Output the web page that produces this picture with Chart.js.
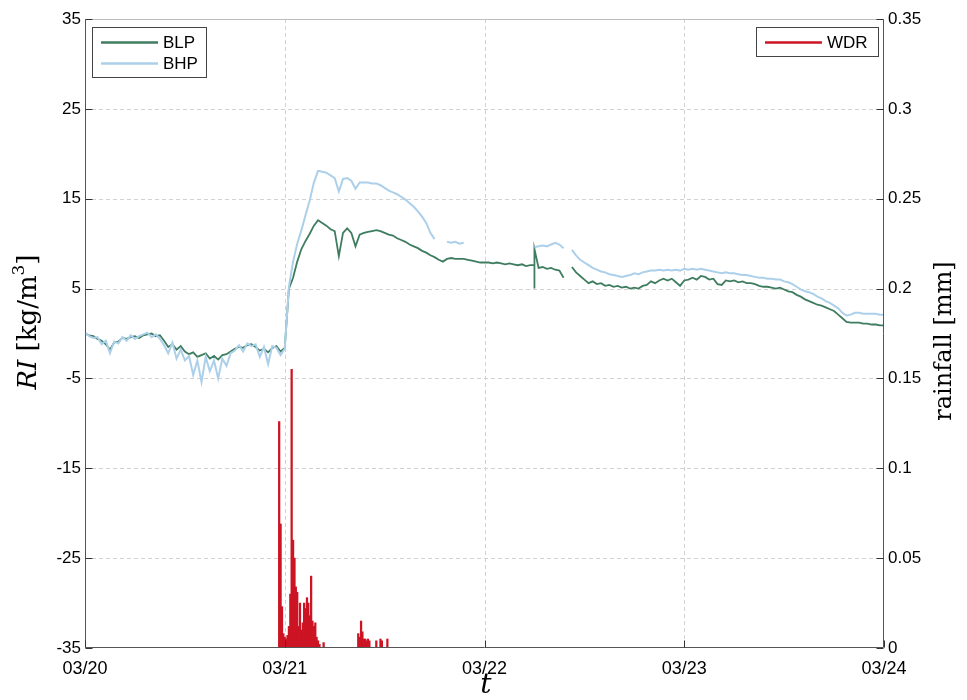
<!DOCTYPE html>
<html>
<head>
<meta charset="utf-8">
<script src="https://cdn.jsdelivr.net/npm/chart.js@4"></script>
<style>
  html, body { margin: 0; padding: 0; background: #ffffff; }
  #wrap { width: 967px; height: 700px; position: relative; }
</style>
</head>
<body>
<div id="wrap"><canvas id="c" width="967" height="700"></canvas></div>
<script>
// ---------- DATA ----------
const dayLabels = ['03/20', '03/21', '03/22', '03/23', '03/24'];
const leftTicks = [-35, -25, -15, -5, 5, 15, 25, 35];
const rightTicks = [0, 0.05, 0.1, 0.15, 0.2, 0.25, 0.3, 0.35];

// hours since 03/20 00:00
const hours = [
  0,0.5,1,1.5,2,2.5,3,3.5,4,4.5,5,5.5,6,6.5,7,7.5,8,8.5,9,9.5,10,10.5,11,11.5,
  12,12.5,13,13.5,14,14.5,15,15.5,16,16.5,17,17.5,18,18.5,19,19.5,20,20.5,21,21.5,22,22.5,23,23.5,
  24,24.5,25,25.5,26,26.5,27,27.5,28,28.5,29,29.5,30,30.5,31,31.5,32,32.5,33,33.5,34,34.5,35,35.5,
  36,36.5,37,37.5,38,38.5,39,39.5,40,40.5,41,41.5,42,42.5,43,43.5,44,44.5,45,45.5,46,46.5,47,47.5,
  48,48.5,49,49.5,50,50.5,51,51.5,52,52.5,53,53.5,54,54,54,54.5,55,55.5,56,56.5,57,57.5,58,58.5,59,59.5,
  60,60.5,61,61.5,62,62.5,63,63.5,64,64.5,65,65.5,66,66.5,67,67.5,68,68.5,69,69.5,70,70.5,71,71.5,
  72,72.5,73,73.5,74,74.5,75,75.5,76,76.5,77,77.5,78,78.5,79,79.5,80,80.5,81,81.5,82,82.5,83,83.5,
  84,84.5,85,85.5,86,86.5,87,87.5,88,88.5,89,89.5,90,90.5,91,91.5,92,92.5,93,93.5,94,94.5,95,95.5,96
];

const blp = [
  0.0,-0.2,-0.3,-0.6,-0.8,-1.2,-1.8,-1.0,-0.9,-0.5,-0.6,-0.4,-0.3,-0.5,-0.2,-0.1,0.0,-0.3,-0.2,-0.8,-1.5,-1.2,-1.8,-1.4,
  -2.0,-2.3,-2.1,-2.6,-2.4,-2.2,-2.8,-2.5,-2.9,-2.4,-2.3,-2.0,-1.7,-1.5,-1.6,-1.3,-1.2,-1.5,-1.9,-1.7,-2.1,-1.6,-1.4,-2.0,
  -1.6,5.0,6.2,8.0,9.4,10.3,11.1,12.0,12.6,12.3,12.0,11.6,11.4,8.6,11.2,11.7,11.2,9.7,11.0,11.2,11.3,11.4,11.5,11.4,
  11.2,11.0,10.9,10.6,10.4,10.2,9.9,9.7,9.5,9.2,9.0,8.7,8.5,8.2,8.0,8.3,8.4,8.3,8.3,8.3,8.2,8.1,8.0,7.9,
  7.9,7.9,7.8,7.9,7.8,7.7,7.8,7.7,7.6,7.7,7.5,7.6,7.6,5.0,9.4,7.3,7.4,7.2,7.3,7.1,7.0,6.2,null,7.4,6.8,6.4,
  6.0,5.6,5.8,5.5,5.6,5.3,5.4,5.2,5.3,5.1,5.2,5.0,5.1,5.0,5.3,5.4,5.8,5.6,5.9,6.1,5.9,6.1,5.7,5.3,
  5.9,6.0,6.2,6.0,6.4,6.3,6.0,6.1,5.5,5.4,5.9,5.8,5.9,5.7,5.8,5.6,5.6,5.5,5.3,5.2,5.2,5.1,5.0,5.1,
  4.9,4.7,4.6,4.3,4.1,3.8,3.6,3.4,3.2,3.1,2.9,2.7,2.5,2.1,1.7,1.3,1.2,1.2,1.2,1.1,1.1,1.0,1.0,0.9,0.9
];

const bhp = [
  0.1,-0.3,-0.5,-0.4,-1.2,-0.8,-2.2,-0.9,-1.1,-0.4,-0.8,-0.2,-0.6,-0.3,-0.1,0.1,-0.4,-0.1,-0.6,-1.3,-2.2,-1.0,-2.8,-1.8,
  -3.0,-2.5,-4.6,-3.0,-5.4,-2.6,-4.2,-3.0,-5.0,-2.8,-3.6,-2.2,-1.9,-1.3,-2.0,-1.1,-1.4,-1.2,-2.6,-1.5,-3.4,-1.4,-1.6,-2.4,
  -1.7,5.2,8.0,10.0,11.5,13.2,14.8,16.8,18.1,18.0,17.9,17.6,17.3,15.8,17.2,17.3,17.0,16.1,16.8,16.8,16.8,16.7,16.7,16.5,
  16.2,15.9,15.7,15.5,15.2,14.9,14.5,14.1,13.6,13.0,12.3,11.2,10.5,null,null,10.2,10.1,10.2,10.0,10.1,null,null,null,null,
  null,null,null,null,null,null,null,null,null,null,null,null,null,null,9.6,9.7,9.8,9.7,9.9,10.1,9.9,9.5,null,9.3,8.7,8.2,
  7.9,7.6,7.3,7.1,6.9,6.8,6.6,6.5,6.4,6.3,6.4,6.5,6.7,6.6,6.8,6.9,7.0,7.0,7.1,7.0,7.1,7.0,7.1,7.0,
  7.2,7.1,7.2,7.1,7.2,7.1,7.0,6.9,6.8,6.7,6.8,6.7,6.7,6.6,6.5,6.5,6.4,6.3,6.2,6.2,6.1,6.1,6.0,6.0,
  5.8,5.7,5.5,5.2,4.9,4.7,4.6,4.4,4.1,3.9,3.6,3.4,3.1,2.8,2.3,2.0,2.1,2.3,2.3,2.2,2.2,2.2,2.2,2.1,2.1
];

// wind-driven rain, 10-minute totals
const rainHours = [
  23.33,23.5,23.67,23.83,24.0,24.17,24.33,24.5,24.67,24.83,25.0,25.17,25.33,25.5,25.67,25.83,
  26.0,26.17,26.33,26.5,26.67,26.83,27.0,27.17,27.33,27.5,27.67,27.83,28.0,28.17,28.67,
  32.83,33.0,33.17,33.33,33.5,33.67,33.83,34.0,34.17,35.0,35.5,35.67,36.33
];
const rainMm = [
  0.126,0.069,0.023,0.008,0.006,0.005,0.007,0.012,0.030,0.155,0.060,0.050,0.034,0.031,0.012,0.025,
  0.010,0.014,0.025,0.022,0.028,0.025,0.018,0.040,0.015,0.012,0.014,0.006,0.004,0.002,0.003,
  0.008,0.006,0.015,0.009,0.005,0.005,0.004,0.005,0.004,0.004,0.005,0.004,0.005
];

// ---------- STYLE ----------
const C_BLP = '#3f7d60';
const C_BHP = '#acd0ea';
const C_WDR = '#cc1424';
const TICK_FONT = { family: 'Liberation Sans', size: 17 };
const X_TICK_FONT = { family: 'Liberation Sans', size: 18 };

const overlay = {
  id: 'overlay',
  beforeDatasetsDraw(chart) {
    const { ctx, chartArea: a, scales } = chart;
    ctx.save();
    ctx.strokeStyle = '#d2d2d2';
    ctx.lineWidth = 1;
    ctx.setLineDash([4, 3]);
    scales.y.ticks.forEach(t => {
      const y = Math.round(scales.y.getPixelForValue(t.value)) + 0.5;
      if (y > a.top + 2 && y < a.bottom - 2) {
        ctx.beginPath(); ctx.moveTo(a.left, y); ctx.lineTo(a.right, y); ctx.stroke();
      }
    });
    scales.x.ticks.forEach(t => {
      const x = Math.round(scales.x.getPixelForValue(t.value)) + 0.5;
      if (x > a.left + 2 && x < a.right - 2) {
        ctx.beginPath(); ctx.moveTo(x, a.top); ctx.lineTo(x, a.bottom); ctx.stroke();
      }
    });
    ctx.restore();
  },
  afterDatasetsDraw(chart) {
    const { ctx, chartArea: a, scales } = chart;
    const L = Math.round(a.left) + 0.5, R = Math.round(a.right) - 0.5;
    const T = Math.round(a.top) + 0.5, B = Math.round(a.bottom) - 0.5;
    ctx.save();
    ctx.setLineDash([]);
    ctx.lineWidth = 1;
    // box
    ctx.strokeStyle = '#bdbdbd';
    ctx.beginPath(); ctx.moveTo(L, T); ctx.lineTo(R, T); ctx.stroke();
    ctx.strokeStyle = '#555555';
    ctx.beginPath(); ctx.moveTo(L, T); ctx.lineTo(L, B); ctx.lineTo(R, B); ctx.lineTo(R, T); ctx.stroke();
    // inner tick marks
    ctx.strokeStyle = '#333333';
    scales.y.ticks.forEach(t => {
      const y = Math.round(scales.y.getPixelForValue(t.value)) + 0.5;
      ctx.beginPath(); ctx.moveTo(L, y); ctx.lineTo(L + 7, y); ctx.stroke();
    });
    scales.y2.ticks.forEach(t => {
      const y = Math.round(scales.y2.getPixelForValue(t.value)) + 0.5;
      ctx.beginPath(); ctx.moveTo(R, y); ctx.lineTo(R - 7, y); ctx.stroke();
    });
    scales.x.ticks.forEach(t => {
      const x = Math.round(scales.x.getPixelForValue(t.value)) + 0.5;
      ctx.beginPath(); ctx.moveTo(x, B); ctx.lineTo(x, B - 7); ctx.stroke();
    });

    // legends
    const legendBox = (x, y, w, h) => {
      ctx.fillStyle = '#ffffff';
      ctx.fillRect(x, y, w, h);
      ctx.strokeStyle = '#444444';
      ctx.lineWidth = 1;
      ctx.strokeRect(x + 0.5, y + 0.5, w, h);
    };
    ctx.font = '17px "Liberation Sans"';
    ctx.textBaseline = 'middle';
    ctx.textAlign = 'left';
    legendBox(92, 27, 114, 50);
    ctx.lineWidth = 2.5;
    ctx.strokeStyle = C_BLP;
    ctx.beginPath(); ctx.moveTo(101, 42.5); ctx.lineTo(158, 42.5); ctx.stroke();
    ctx.strokeStyle = C_BHP;
    ctx.beginPath(); ctx.moveTo(101, 63.5); ctx.lineTo(158, 63.5); ctx.stroke();
    ctx.fillStyle = '#000000';
    ctx.fillText('BLP', 163, 43);
    ctx.fillText('BHP', 163, 64);
    legendBox(756, 27, 122, 29);
    ctx.lineWidth = 2.5;
    ctx.strokeStyle = C_WDR;
    ctx.beginPath(); ctx.moveTo(765, 42.5); ctx.lineTo(822, 42.5); ctx.stroke();
    ctx.fillStyle = '#000000';
    ctx.fillText('WDR', 827, 43);

    // axis titles
    const serif = '"DejaVu Serif"';
    const drawRuns = (runs, cx, cy, rot) => {
      ctx.save();
      ctx.translate(cx, cy);
      ctx.rotate(rot);
      let total = 0;
      runs.forEach(r => { ctx.font = r.font; r.w = ctx.measureText(r.text).width; total += r.w; });
      let x = -total / 2;
      ctx.textAlign = 'left';
      ctx.textBaseline = 'middle';
      ctx.fillStyle = '#000000';
      runs.forEach(r => { ctx.font = r.font; ctx.fillText(r.text, x, r.dy || 0); x += r.w; });
      ctx.restore();
    };
    drawRuns([
      { text: 'RI', font: 'italic 26px ' + serif },
      { text: ' [kg/m', font: '26px ' + serif },
      { text: '3', font: '17px ' + serif, dy: -9 },
      { text: ']', font: '26px ' + serif }
    ], 29, 322, -Math.PI / 2);
    drawRuns([
      { text: 'rainfall [mm]', font: '24px ' + serif }
    ], 945, 341, -Math.PI / 2);
    drawRuns([
      { text: 't', font: 'italic 28px ' + serif }
    ], 486, 686, 0);
    ctx.restore();
  }
};

const toXY = (xs, ys) => xs.map((x, i) => ({ x: x, y: ys[i] }));

new Chart(document.getElementById('c'), {
  type: 'line',
  data: {
    datasets: [
      {
        label: 'BHP', data: toXY(hours, bhp), yAxisID: 'y', order: 1,
        borderColor: C_BHP, borderWidth: 2, pointRadius: 0, tension: 0, spanGaps: false
      },
      {
        label: 'BLP', data: toXY(hours, blp), yAxisID: 'y', order: 2,
        borderColor: C_BLP, borderWidth: 1.8, pointRadius: 0, tension: 0, spanGaps: false
      },
      {
        type: 'bar', label: 'WDR', data: toXY(rainHours, rainMm), yAxisID: 'y2', order: 0,
        backgroundColor: C_WDR, borderWidth: 0, barThickness: 1.6, grouped: false
      }
    ]
  },
  options: {
    responsive: false,
    animation: false,
    devicePixelRatio: 1,
    layout: { padding: { top: 19, left: 0, right: 0, bottom: 0 } },
    plugins: { legend: { display: false }, tooltip: { enabled: false } },
    scales: {
      x: {
        type: 'linear', min: 0, max: 96, offset: false,
        grid: { display: false, offset: false },
        border: { display: false },
        afterFit: s => { s.height = 52; },
        afterBuildTicks: s => { s.ticks = dayLabels.map((d, i) => ({ value: i * 24 })); },
        ticks: {
          font: X_TICK_FONT, color: '#000000', padding: 2, maxRotation: 0, autoSkip: false,
          callback: v => dayLabels[Math.round(v / 24)]
        }
      },
      y: {
        type: 'linear', position: 'left', min: -35, max: 35,
        grid: { display: false, drawTicks: false },
        border: { display: false },
        afterFit: s => { s.width = 85; },
        afterBuildTicks: s => { s.ticks = leftTicks.map(v => ({ value: v })); },
        ticks: { font: TICK_FONT, color: '#000000', padding: 4, callback: v => String(v) }
      },
      y2: {
        type: 'linear', position: 'right', min: 0, max: 0.35,
        grid: { display: false, drawTicks: false },
        border: { display: false },
        afterFit: s => { s.width = 83; },
        afterBuildTicks: s => { s.ticks = rightTicks.map(v => ({ value: v })); },
        ticks: { font: TICK_FONT, color: '#000000', padding: 4, callback: v => String(+v.toFixed(2)) }
      }
    }
  },
  plugins: [overlay]
});
</script>
</body>
</html>
